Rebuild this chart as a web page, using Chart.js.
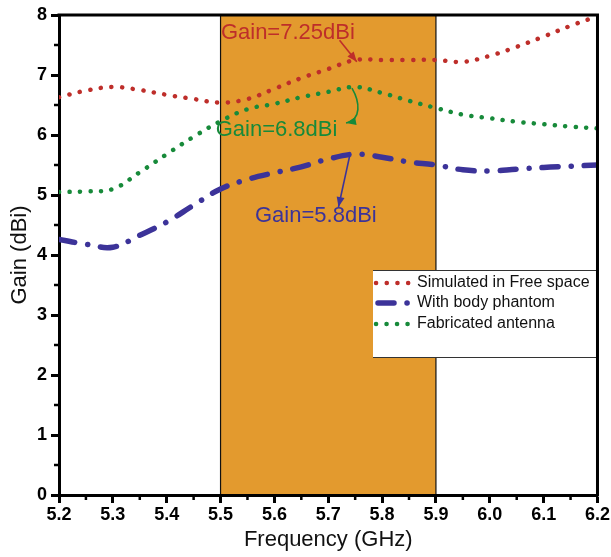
<!DOCTYPE html>
<html><head><meta charset="utf-8">
<script src="https://cdn.jsdelivr.net/npm/chart.js@4/dist/chart.umd.min.js"></script>
<style>html,body{margin:0;padding:0;background:#fff;}canvas{display:block;}</style>
</head><body>
<canvas id="c" width="611" height="557"></canvas>
<script>
// ---- data ----
const frequencies = [5.2,5.25,5.3,5.35,5.4,5.45,5.5,5.55,5.6,5.65,5.7,5.75,5.8,5.85,5.9,5.95,6.0,6.05,6.1,6.15,6.2];
const simulatedFreeSpace = [6.63,6.74,6.80,6.75,6.67,6.60,6.54,6.60,6.77,6.95,7.10,7.25,7.25,7.25,7.25,7.22,7.32,7.47,7.64,7.82,7.98];
const withBodyPhantom   = [4.26,4.18,4.13,4.33,4.55,4.83,5.10,5.26,5.37,5.47,5.60,5.68,5.63,5.55,5.50,5.42,5.40,5.43,5.46,5.48,5.50];
const fabricatedAntenna = [5.05,5.06,5.10,5.38,5.68,5.97,6.23,6.43,6.52,6.63,6.72,6.80,6.70,6.57,6.45,6.34,6.28,6.22,6.18,6.14,6.11];
const seriesNames = ['Simulated in Free space','With body phantom','Fabricated antenna'];
const xTicks = [5.2,5.3,5.4,5.5,5.6,5.7,5.8,5.9,6.0,6.1,6.2];
const xMinorTicks = [5.25,5.35,5.45,5.55,5.65,5.75,5.85,5.95,6.05,6.15];
const yTicks = [0,1,2,3,4,5,6,7,8];
const yMinorTicks = [0.5,1.5,2.5,3.5,4.5,5.5,6.5,7.5];
const bandRange = [5.5, 5.9];
const annotationTexts = ['Gain=7.25dBi','Gain=6.8dBi','Gain=5.8dBi'];
const annotationAnchors = [[5.625,7.70],[5.604,6.08],[5.677,4.65]];
const arrowPaths = [
  [[5.721,7.58],[5.753,7.22]],
  [[5.744,6.78],[5.759,6.55],[5.762,6.25],[5.733,6.2]],
  [[5.740,5.66],[5.719,4.80]]
];

// ---- styles ----
const FONT = "'Liberation Sans', Arial, sans-serif";
const colors = ['#BE2E2A','#3C3399','#178A3A'];
const bandColor = '#E39A2E';

const toXY = arr => frequencies.map((f,i)=>({x:f,y:arr[i]}));

const frame = {
  id:'frame',
  beforeDraw(chart){
    const {ctx, chartArea:a, scales:{x,y}} = chart;
    const x0 = x.getPixelForValue(bandRange[0]), x1 = x.getPixelForValue(bandRange[1]);
    const yt = y.getPixelForValue(8), yb = y.getPixelForValue(0);
    ctx.save();
    ctx.fillStyle = bandColor;
    ctx.fillRect(x0, yt, x1-x0, yb-yt);
    ctx.strokeStyle = '#111'; ctx.lineWidth = 1.2;
    ctx.beginPath();
    ctx.moveTo(x0, yt); ctx.lineTo(x0, yb);
    ctx.moveTo(x1, yt); ctx.lineTo(x1, yb);
    ctx.stroke();
    ctx.restore();
  },
  afterDatasetsDraw(chart){
    const {ctx, chartArea:a, scales:{x,y}} = chart;
    // annotations
    ctx.save();
    ctx.font = "22px " + FONT;
    ctx.textAlign = 'center'; ctx.textBaseline = 'middle';
    annotationTexts.forEach((t,i)=>{
      const c = [colors[0],colors[2],colors[1]][i];
      ctx.fillStyle = c;
      ctx.fillText(t, x.getPixelForValue(annotationAnchors[i][0]), y.getPixelForValue(annotationAnchors[i][1]));
    });
    // arrows
    const P = p => [x.getPixelForValue(p[0]), y.getPixelForValue(p[1])];
    const arrowCols = [colors[0], colors[2], colors[1]];
    arrowPaths.forEach((path,i)=>{
      const pts = path.map(P);
      ctx.strokeStyle = arrowCols[i]; ctx.fillStyle = arrowCols[i];
      ctx.lineWidth = 1.6; ctx.setLineDash([]);
      ctx.beginPath();
      ctx.moveTo(pts[0][0], pts[0][1]);
      let prev;
      if (pts.length === 4) {
        ctx.bezierCurveTo(pts[1][0],pts[1][1],pts[2][0],pts[2][1],pts[3][0],pts[3][1]);
        prev = pts[2];
      } else { ctx.lineTo(pts[1][0], pts[1][1]); prev = pts[0]; }
      ctx.stroke();
      const end = pts[pts.length-1];
      const ang = Math.atan2(end[1]-prev[1], end[0]-prev[0]);
      const L = 10, W = 4;
      ctx.beginPath();
      ctx.moveTo(end[0], end[1]);
      ctx.lineTo(end[0]-L*Math.cos(ang)+W*Math.sin(ang), end[1]-L*Math.sin(ang)-W*Math.cos(ang));
      ctx.lineTo(end[0]-L*Math.cos(ang)-W*Math.sin(ang), end[1]-L*Math.sin(ang)+W*Math.cos(ang));
      ctx.closePath(); ctx.fill();
    });
    // legend
    const lx = 373, lr = a.right, ly0 = 270, ly1 = 358;
    ctx.fillStyle = '#fff';
    ctx.fillRect(lx, ly0, lr-lx, ly1-ly0);
    ctx.strokeStyle = '#333'; ctx.lineWidth = 1;
    ctx.beginPath();
    ctx.moveTo(lx, ly0+0.5); ctx.lineTo(lr, ly0+0.5);
    ctx.moveTo(lx, ly1-0.5); ctx.lineTo(lr, ly1-0.5);
    ctx.stroke();
    const rows = [283, 303, 324];
    chart.data.datasets.forEach((ds,i)=>{
      const yy = rows[i];
      ctx.save();
      ctx.strokeStyle = ds.borderColor; ctx.lineWidth = ds.borderWidth;
      ctx.lineCap = 'round'; ctx.setLineDash(ds.borderDash);
      ctx.beginPath(); ctx.moveTo(i===1?378:376, yy); ctx.lineTo(411, yy); ctx.stroke();
      ctx.restore();
      ctx.fillStyle = '#111'; ctx.font = "16px " + FONT;
      ctx.textAlign = 'left'; ctx.textBaseline = 'middle';
      ctx.fillText(ds.label, 417, yy);
    });
    ctx.restore();
  },
  afterDraw(chart){
    const {ctx, chartArea:a, scales:{x,y}} = chart;
    ctx.save();
    ctx.strokeStyle = '#000'; ctx.lineWidth = 3;
    ctx.beginPath();
    ctx.moveTo(a.left-1.5, a.top); ctx.lineTo(a.right, a.top);
    ctx.lineTo(a.right, a.bottom+1.5);
    ctx.stroke();
    ctx.lineWidth = 2.5;
    ctx.beginPath();
    xMinorTicks.forEach(v=>{ const px = x.getPixelForValue(v); ctx.moveTo(px, a.bottom); ctx.lineTo(px, a.bottom+5); });
    yMinorTicks.forEach(v=>{ const py = y.getPixelForValue(v); ctx.moveTo(a.left, py); ctx.lineTo(a.left-5, py); });
    ctx.stroke();
    ctx.restore();
  }
};

new Chart(document.getElementById('c'), {
  type:'line',
  data:{ datasets:[
    {label:seriesNames[0], data:toXY(simulatedFreeSpace), borderColor:colors[0], borderWidth:4.5, borderDash:[0.1,10.6], borderCapStyle:'round', pointRadius:0, tension:0.4, fill:false},
    {label:seriesNames[1], data:toXY(withBodyPhantom), borderColor:colors[1], borderWidth:5.5, borderDash:[16,13,0.1,13], borderCapStyle:'round', pointRadius:0, tension:0.4, fill:false},
    {label:seriesNames[2], data:toXY(fabricatedAntenna), borderColor:colors[2], borderWidth:4.5, borderDash:[0.1,10.4], borderCapStyle:'round', pointRadius:0, tension:0.4, fill:false}
  ]},
  options:{
    responsive:false, animation:false, devicePixelRatio:1,
    layout:{padding:{top:15,right:13,left:0,bottom:0}},
    plugins:{legend:{display:false}, tooltip:{enabled:false}},
    scales:{
      x:{type:'linear', min:5.2, max:6.2,
        afterBuildTicks:s=>{ s.ticks = xTicks.map(v=>({value:v})); },
        afterFit:s=>{ s.height = 62; },
        ticks:{autoSkip:false, maxRotation:0, color:'#000', padding:1, font:{family:FONT, size:18, weight:'bold'}, callback:v=>Number(v).toFixed(1)},
        grid:{drawOnChartArea:false, drawTicks:true, tickLength:8, tickWidth:3, tickColor:'#000'},
        border:{display:true, width:3, color:'#000'},
        title:{display:true, text:'Frequency (GHz)', color:'#111', font:{family:FONT, size:22}, padding:{top:0,bottom:4}}
      },
      y:{type:'linear', min:0, max:8,
        afterBuildTicks:s=>{ s.ticks = yTicks.map(v=>({value:v})); },
        afterFit:s=>{ s.width = 59; },
        ticks:{autoSkip:false, color:'#000', padding:4, font:{family:FONT, size:18, weight:'bold'}, callback:v=>String(v)},
        grid:{drawOnChartArea:false, drawTicks:true, tickLength:8, tickWidth:3, tickColor:'#000'},
        border:{display:true, width:3, color:'#000'},
        title:{display:true, text:'Gain (dBi)', color:'#111', font:{family:FONT, size:22}, padding:{top:7,bottom:0}}
      }
    }
  },
  plugins:[frame]
});
</script>
</body></html>
